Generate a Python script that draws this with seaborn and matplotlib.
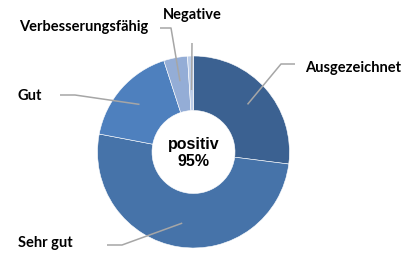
import numpy as np
import matplotlib
matplotlib.use("Agg")
import matplotlib.pyplot as plt
import seaborn as sns

categories = ["Ausgezeichnet", "Sehr gut", "Gut", "Verbesserungsfähig", "Negative"]
values = [27, 51, 17, 4, 1]
colors = ["#3B6191", "#4673A9", "#4E80BE", "#94ADD6", "#BCCDE8"]
center_label = "positiv\n95%"

sns.set_theme(style="white")
plt.rcParams["font.family"] = ["Lato", "DejaVu Sans"]

W, H = 417, 257
fig = plt.figure(figsize=(W / 100, H / 100), dpi=100)
ax = fig.add_axes([0, 0, 1, 1])

cx, cy = 193.5, H - 152
R = 96
r_in = 41.5
ax.pie(values, colors=colors, startangle=90, counterclock=False,
       center=(cx, cy), radius=R, frame=True,
       wedgeprops=dict(width=R - r_in, edgecolor="white", linewidth=0.4))
ax.set_xlim(0, W)
ax.set_ylim(0, H)
ax.axis("off")

ax.text(cx, cy - 1, center_label, ha="center", va="center", fontsize=11.5,
        fontweight="bold", family=["Liberation Sans"], linespacing=1.25, color="black")

layout = {
    "Ausgezeichnet": dict(tx=305, ty=68, ha="left", pts=[(295, 64), (281, 64)], rr=72),
    "Sehr gut": dict(tx=18, ty=243, ha="left", pts=[(107, 245), (122, 245)], rr=72),
    "Gut": dict(tx=18, ty=96, ha="left", pts=[(60, 95), (75, 95)], rr=72),
    "Verbesserungsfähig": dict(tx=19, ty=27, ha="left", pts=[(160, 28), (171, 28)], rr=72),
    "Negative": dict(tx=192, ty=15, ha="center", pts=[(192, 43)], rr=62),
}

total = sum(values)
cum = np.cumsum([0] + values)
for i, cat in enumerate(categories):
    mid = (cum[i] + values[i] / 2) / total * 2 * np.pi
    L = layout[cat]
    ex = cx + L["rr"] * np.sin(mid)
    ey = cy + L["rr"] * np.cos(mid)
    xs = [p[0] for p in L["pts"]] + [ex]
    ys = [H - p[1] for p in L["pts"]] + [ey]
    ax.plot(xs, ys, color="#A6A6A6", lw=1.1, solid_capstyle="butt", zorder=5)
    ax.text(L["tx"], H - L["ty"], cat, ha=L["ha"], va="center", fontsize=10.5,
            fontweight="bold", color="black")

fig.savefig("out.png", dpi=100, facecolor="white")
